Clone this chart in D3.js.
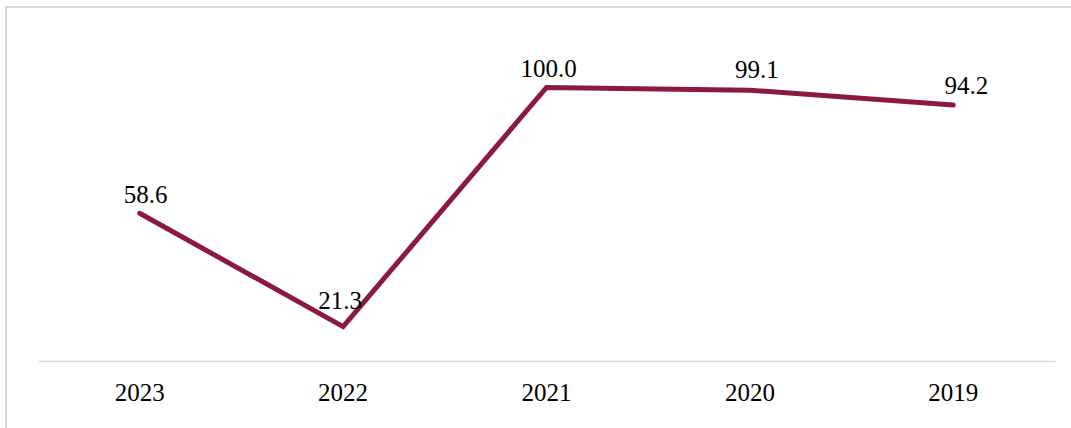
<!DOCTYPE html>
<html>
<head>
<meta charset="utf-8">
<script src="https://cdn.jsdelivr.net/npm/d3@7"></script>
<style>
  html, body { margin: 0; padding: 0; background: #fff; }
  svg { display: block; }
  svg text { font-family: "Liberation Serif", "Times New Roman", Times, serif; }
</style>
</head>
<body>
<svg id="chart" width="1071" height="428"></svg>
<script>
// values
const years = ["2023", "2022", "2021", "2020", "2019"];
const values = [58.6, 21.3, 100.0, 99.1, 94.2];

// label nudges (layout only, px) to match the hand-placed labels
const labelDx = [6, -3, 2, 7, 13];
const labelDy = [-10, -18, -10, -12, -11];

const W = 1071, H = 428;
const plot = { left: 38, right: 1055, top: 57, bottom: 361 };
const lineColor = "#8c1a3c";
const serif = '"Liberation Serif", "Times New Roman", Times, serif';

const svg = d3.select("#chart");

// outer frame (top + left visible)
svg.append("path")
  .attr("d", `M6,${H} L6,7 L${W},7`)
  .attr("fill", "none")
  .attr("stroke", "#d9d9d9")
  .attr("stroke-width", 2);

const x = d3.scaleBand().domain(years).range([plot.left, plot.right]);
const y = d3.scaleLinear().domain([10, 110]).range([plot.bottom, plot.top]);
const cx = (d) => x(d) + x.bandwidth() / 2;

// category axis
const xAxis = svg.append("g")
  .attr("transform", `translate(0,${plot.bottom})`)
  .call(d3.axisBottom(x).tickSize(0).tickPadding(22));
xAxis.attr("font-family", null).attr("font-size", null);
xAxis.select(".domain").attr("stroke", "#d9d9d9").attr("stroke-width", 1.5);
xAxis.selectAll("text")
  .style("font-family", serif)
  .style("font-size", "25px")
  .attr("fill", "#000");

const pts = years.map((yr, i) => ({ yr, v: values[i], i }));

svg.append("path")
  .datum(pts)
  .attr("fill", "none")
  .attr("stroke", lineColor)
  .attr("stroke-width", 5)
  .attr("stroke-linecap", "round")
  .attr("stroke-linejoin", "miter")
  .attr("d", d3.line().x((d) => cx(d.yr)).y((d) => y(d.v)));

svg.append("g")
  .selectAll("text")
  .data(pts)
  .join("text")
  .attr("x", (d) => cx(d.yr) + labelDx[d.i])
  .attr("y", (d) => y(d.v) + labelDy[d.i])
  .attr("text-anchor", "middle")
  .style("font-family", serif)
  .style("font-size", "25px")
  .attr("fill", "#000")
  .text((d) => d3.format(".1f")(d.v));
</script>
</body>
</html>
